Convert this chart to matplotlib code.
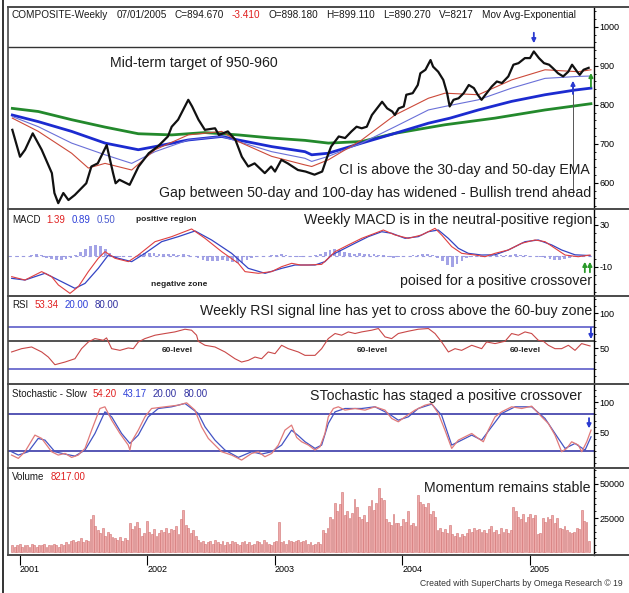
import numpy as np
import matplotlib
matplotlib.use("Agg")
import matplotlib.pyplot as plt
from matplotlib.lines import Line2D
from matplotlib.ticker import AutoMinorLocator
from matplotlib import font_manager

W, H = 629, 593
installed = {f.name for f in font_manager.fontManager.ttflist}
NARROW = "Liberation Sans Narrow" if "Liberation Sans Narrow" in installed else "Liberation Sans"
MAIN = "Liberation Sans"

# ---------------- data ----------------
price_yr = [2000.94, 2001.00, 2001.04, 2001.10, 2001.17, 2001.25, 2001.27, 2001.30, 2001.34, 2001.38,
            2001.43, 2001.52, 2001.56, 2001.61, 2001.68, 2001.73, 2001.75, 2001.78, 2001.86, 2001.93,
            2002.01, 2002.08, 2002.16, 2002.19, 2002.24, 2002.32, 2002.35, 2002.40, 2002.45, 2002.53,
            2002.56, 2002.63, 2002.69, 2002.74, 2002.79, 2002.84, 2002.92, 2002.97, 2003.00, 2003.05,
            2003.10, 2003.18, 2003.24, 2003.31, 2003.37, 2003.41, 2003.44, 2003.50, 2003.55, 2003.60,
            2003.64, 2003.68, 2003.72, 2003.76, 2003.80, 2003.84, 2003.88, 2003.92, 2003.94, 2003.97,
            2004.01, 2004.03, 2004.08, 2004.12, 2004.14, 2004.18, 2004.22, 2004.24, 2004.28, 2004.32,
            2004.35, 2004.37, 2004.40, 2004.44, 2004.48, 2004.52, 2004.56, 2004.59, 2004.62, 2004.66,
            2004.70, 2004.74, 2004.78, 2004.83, 2004.87, 2004.91, 2004.96, 2005.00, 2005.03, 2005.07,
            2005.11, 2005.15, 2005.18, 2005.22, 2005.26, 2005.30, 2005.33, 2005.37, 2005.39, 2005.42,
            2005.46]
price = [736, 667, 685, 727, 685, 625, 574, 548, 574, 556,
         569, 599, 642, 650, 697, 625, 599, 608, 595, 642,
         676, 693, 719, 744, 762, 813, 796, 762, 736, 740,
         723, 732, 710, 667, 642, 650, 625, 642, 629, 659,
         650, 633, 629, 621, 629, 667, 693, 719, 715, 732,
         744, 740, 744, 774, 791, 808, 791, 783, 774, 791,
         796, 826, 830, 851, 881, 890, 915, 898, 885, 864,
         830, 796, 813, 817, 830, 851, 843, 826, 813, 830,
         847, 860, 856, 873, 903, 907, 920, 920, 937, 920,
         907, 903, 894, 881, 873, 885, 903, 885, 877, 890,
         895]

ema_red_yr = [2000.94, 2001.144, 2001.405, 2001.536, 2001.667, 2001.876, 2002.059, 2002.32, 2002.582,
              2002.712, 2002.974, 2003.235, 2003.288, 2003.418, 2003.68, 2003.941, 2004.203, 2004.333,
              2004.595, 2004.856, 2005.118, 2005.379, 2005.478]
ema_red = [766, 732, 676, 638, 650, 633, 685, 723, 732, 706, 668, 646, 642, 659, 710, 774, 817, 830,
           826, 864, 890, 885, 890]
ema_lb_yr = [2000.94, 2001.144, 2001.405, 2001.667, 2001.876, 2002.059, 2002.32, 2002.582, 2002.712,
             2002.974, 2003.235, 2003.288, 2003.418, 2003.68, 2003.941, 2004.203, 2004.333, 2004.595,
             2004.856, 2005.118, 2005.379, 2005.478]
ema_lb = [770, 744, 702, 672, 650, 680, 710, 719, 706, 680, 663, 655, 668, 702, 744, 787, 796, 813,
          843, 868, 873, 874]
ema_blue_yr = [2000.94, 2001.144, 2001.405, 2001.667, 2001.928, 2002.059, 2002.32, 2002.582, 2002.712,
               2002.974, 2003.235, 2003.288, 2003.418, 2003.68, 2003.941, 2004.203, 2004.373, 2004.595,
               2004.856, 2005.118, 2005.353, 2005.478]
ema_blue = [774, 757, 732, 702, 685, 693, 710, 719, 710, 693, 680, 672, 676, 702, 727, 753, 766, 787,
            809, 826, 838, 843]
ema_green_yr = [2000.94, 2001.144, 2001.405, 2001.667, 2001.928, 2002.19, 2002.451, 2002.712, 2002.974,
                2003.235, 2003.418, 2003.68, 2003.941, 2004.333, 2004.725, 2005.118, 2005.478]
ema_green = [791, 783, 762, 743, 726, 723, 729, 723, 715, 709, 702, 706, 727, 749, 766, 787, 803]
target_level = 948

macd_yr = [2000.935, 2001.039, 2001.170, 2001.248, 2001.301, 2001.392, 2001.458, 2001.536, 2001.614,
           2001.667, 2001.745, 2001.850, 2001.928, 2002.059, 2002.190, 2002.346, 2002.451, 2002.582,
           2002.712, 2002.765, 2002.869, 2002.974, 2003.052, 2003.131, 2003.200, 2003.261, 2003.366,
           2003.418, 2003.471, 2003.575, 2003.680, 2003.784, 2003.850, 2003.941, 2004.046, 2004.150,
           2004.229, 2004.255, 2004.307, 2004.386, 2004.464, 2004.569, 2004.647, 2004.725, 2004.830,
           2004.935, 2005.039, 2005.118, 2005.196, 2005.275, 2005.379, 2005.471]
macd = [-19.2, -22.4, -14.4, -19.2, -27.1, -35.1, -28.7, -14.4, -1.7,
        4.6, -1.7, -4.9, 1.4, 14.1, 18.9, 26.2, 17.3, 4.6,
        -6.5, -14.4, -16.0, -14.4, -9.7, -6.5, -8.1, -8.1, -7.5,
        -1.7, 4.6, 11.0, 17.3, 22.1, 25.2, 20.5, 17.3, 20.5,
        25.2, 26.8, 20.5, 9.4, 3.0, 1.4, -0.2, 3.0, 6.2,
        12.6, 15.7, 14.1, 7.8, 1.4, -0.2, 1.39]
signal_yr = [2000.935, 2001.039, 2001.196, 2001.301, 2001.431, 2001.510, 2001.614, 2001.693, 2001.771,
             2001.876, 2001.980, 2002.111, 2002.242, 2002.373, 2002.503, 2002.660, 2002.791, 2002.922,
             2003.052, 2003.157, 2003.314, 2003.392, 2003.444, 2003.523, 2003.627, 2003.732, 2003.837,
             2003.915, 2004.020, 2004.124, 2004.203, 2004.281, 2004.359, 2004.438, 2004.516, 2004.621,
             2004.725, 2004.830, 2004.961, 2005.065, 2005.170, 2005.248, 2005.353, 2005.471]
signal = [-20.8, -22.4, -16.0, -22.4, -30.3, -25.6, -11.3, 1.4, -1.7,
          -4.9, 3.0, 14.1, 18.9, 24.3, 15.7, 3.0, -11.3, -16.0,
          -11.3, -8.1, -8.1, -4.9, 1.4, 6.2, 12.6, 18.9, 23.6,
          22.1, 17.3, 18.9, 23.6, 25.2, 17.3, 7.8, 3.0, 1.4,
          1.6, 6.2, 14.1, 15.7, 11.0, 6.2, 1.6, 0.89]
# histogram, one bar every second week from the first bar
macd_hist = [0.5, -0.8, 0.6, 0.4, 1.5, 2.0, 1.2, -1.0, -2.0, -3.0,
             -3.0, -2.5, -1.5, 1.0, 4.0, 7.0, 10.0, 11.0, 10.0, 7.0,
             3.0, -1.0, -0.5, 0.5, -0.5, 0.8, 2.0, 3.0, 3.5, 3.0,
             2.5, 2.0, 2.5, 2.0, 1.5, 2.0, 1.5, 0.5, -1.5, -3.0,
             -4.0, -4.5, -4.0, -3.5, -4.0, -5.0, -6.0, -6.5, -3.0, -1.0,
             -0.5, 0.5, 0.8, 1.0, 1.5, 2.0, 1.0, 0.5, -0.5, -0.8,
             0.5, 0.5, 1.0, 2.0, 4.0, 6.0, 7.0, 6.0, 4.5, 3.0,
             2.5, 3.0, 2.5, 2.0, 2.5, 1.5, 1.0, -0.5, -1.0, -0.5,
             0.5, 0.5, 1.0, 1.5, 2.0, 2.0, 1.5, -1.0, -4.0, -8.0,
             -10.0, -7.0, -4.0, -1.5, -0.5, 0.5, -0.5, 0.5, 1.0, 1.0,
             1.5, 1.0, 1.5, 2.0, 1.5, 1.0, 0.5, 0.5, -0.5, -1.5,
             -2.5, -3.5, -3.0, -2.5, -1.5, -0.5, 0.3, 0.5, 0.5]

rsi_yr = [2000.934, 2001.013, 2001.091, 2001.170, 2001.222, 2001.274, 2001.353, 2001.431, 2001.483,
          2001.536, 2001.588, 2001.653, 2001.679, 2001.719, 2001.784, 2001.849, 2001.889, 2001.928,
          2001.980, 2002.059, 2002.137, 2002.215, 2002.294, 2002.346, 2002.385, 2002.398, 2002.451,
          2002.529, 2002.608, 2002.686, 2002.738, 2002.791, 2002.843, 2002.895, 2002.947, 2003.000,
          2003.052, 2003.104, 2003.183, 2003.235, 2003.314, 2003.366, 2003.418, 2003.471, 2003.523,
          2003.575, 2003.628, 2003.680, 2003.758, 2003.811, 2003.863, 2003.915, 2003.967, 2004.046,
          2004.124, 2004.203, 2004.255, 2004.307, 2004.360, 2004.412, 2004.464, 2004.543, 2004.621,
          2004.660, 2004.726, 2004.804, 2004.856, 2004.909, 2004.961, 2005.013, 2005.065, 2005.105,
          2005.144, 2005.196, 2005.248, 2005.301, 2005.353, 2005.405, 2005.471]
rsi = [44.8, 49.5, 51.9, 44.8, 37.6, 26.7, 30.5, 35.2, 49.5,
       59.0, 63.8, 61.4, 64.8, 49.5, 47.1, 50.5, 49.5, 59.0,
       63.8, 68.6, 71.0, 73.3, 77.1, 75.7, 68.6, 60.0, 54.3,
       51.9, 44.8, 35.2, 30.5, 32.9, 37.6, 35.2, 44.8, 42.4,
       54.3, 49.5, 44.8, 40.0, 40.0, 49.5, 63.8, 71.0, 68.6,
       73.3, 71.0, 73.3, 75.7, 78.1, 66.2, 63.8, 71.0, 74.3,
       77.1, 78.1, 71.0, 59.0, 44.8, 49.5, 47.1, 54.3, 49.5,
       59.0, 56.7, 60.0, 71.0, 68.6, 73.3, 71.0, 61.4, 60.0,
       54.3, 49.5, 49.5, 54.3, 47.1, 56.7, 53.34]

stk_yr = [2000.934, 2000.987, 2001.039, 2001.117, 2001.170, 2001.248, 2001.300, 2001.353, 2001.405,
          2001.457, 2001.510, 2001.562, 2001.627, 2001.666, 2001.719, 2001.784, 2001.849, 2001.862,
          2001.875, 2001.928, 2001.980, 2002.032, 2002.137, 2002.241, 2002.307, 2002.372, 2002.424,
          2002.477, 2002.529, 2002.581, 2002.660, 2002.738, 2002.817, 2002.869, 2002.921, 2002.974,
          2003.026, 2003.078, 2003.130, 2003.170, 2003.209, 2003.262, 2003.314, 2003.353, 2003.392,
          2003.418, 2003.458, 2003.497, 2003.549, 2003.628, 2003.706, 2003.784, 2003.863, 2003.915,
          2003.967, 2004.020, 2004.098, 2004.177, 2004.229, 2004.281, 2004.333, 2004.386, 2004.438,
          2004.490, 2004.543, 2004.595, 2004.634, 2004.673, 2004.726, 2004.778, 2004.856, 2004.935,
          2005.013, 2005.092, 2005.144, 2005.196, 2005.248, 2005.288, 2005.327, 2005.379, 2005.406,
          2005.445, 2005.479]
stk = [12.9, 7.4, 18.4, 45.9, 40.4, 18.4, 12.9, 15.6, 9.0,
       12.9, 23.9, 54.1, 89.9, 92.7, 70.6, 48.6, 29.4, 21.1,
       34.9, 54.1, 76.1, 89.9, 92.7, 95.4, 99.3, 87.2, 59.6,
       40.4, 29.4, 18.4, 12.9, 4.6, 15.6, 18.4, 10.1, 15.6,
       29.4, 54.1, 62.4, 42.0, 34.9, 29.4, 21.1, 26.6, 48.6,
       76.1, 89.9, 92.7, 87.2, 89.9, 87.2, 92.7, 87.2, 73.4,
       67.9, 76.1, 87.2, 95.4, 98.2, 81.7, 54.1, 23.9, 37.6,
       43.1, 48.6, 40.4, 34.9, 54.1, 76.1, 84.4, 92.7, 89.9,
       93.8, 76.1, 65.1, 45.9, 18.4, 23.9, 34.9, 29.4, 18.4,
       34.9, 54.20]
std_yr = [2000.934, 2000.987, 2001.065, 2001.143, 2001.196, 2001.274, 2001.353, 2001.431, 2001.510,
          2001.588, 2001.666, 2001.719, 2001.797, 2001.862, 2001.928, 2002.006, 2002.085, 2002.189,
          2002.294, 2002.398, 2002.451, 2002.529, 2002.608, 2002.712, 2002.817, 2002.895, 2002.974,
          2003.052, 2003.130, 2003.183, 2003.235, 2003.314, 2003.366, 2003.418, 2003.471, 2003.549,
          2003.680, 2003.784, 2003.889, 2003.967, 2004.046, 2004.124, 2004.229, 2004.307, 2004.386,
          2004.464, 2004.543, 2004.621, 2004.699, 2004.778, 2004.883, 2005.013, 2005.118, 2005.222,
          2005.275, 2005.353, 2005.432, 2005.479]
std = [18.4, 12.9, 18.4, 40.4, 37.6, 18.4, 14.5, 11.2, 21.1,
       48.6, 84.4, 76.1, 48.6, 32.1, 45.9, 76.1, 89.9, 92.7,
       98.2, 81.7, 59.6, 37.6, 21.1, 9.0, 18.4, 14.5, 18.4,
       29.4, 54.0, 45.0, 35.0, 23.9, 29.4, 65.1, 84.4, 89.9,
       89.9, 92.7, 81.7, 70.6, 76.1, 89.9, 97.1, 78.9, 29.4,
       37.6, 45.9, 37.6, 59.6, 81.7, 92.7, 92.7, 73.4, 40.4,
       23.9, 32.1, 21.1, 43.17]

# weekly volume, thousands of shares
volume_k = [5, 4, 5, 6, 4, 5, 5, 4, 6, 5, 4, 5, 5, 6, 4, 5, 5, 6, 5, 4, 6, 5,
            7, 6, 8, 9, 7, 8, 10, 7, 9, 8,
            24, 27, 19, 16, 14, 18, 12, 15, 13, 11,
            10, 9, 11, 8, 10, 9, 21, 17, 19, 22,
            18, 12, 14, 23, 15, 13, 17, 12, 14, 16,
            15, 18, 14, 17, 16, 19, 13, 24, 31, 20,
            18, 14, 16, 12,
            9, 7, 8, 6, 7, 8, 6, 9, 7, 6, 8, 5, 7, 6, 8, 7, 6, 5, 7, 8,
            6, 7, 5, 6, 8, 7, 6, 9, 7, 6, 5, 7, 8,
            22, 7, 8, 6, 9, 8, 7,
            8, 9, 7, 8, 9, 6, 7, 5, 6, 7, 6,
            16, 14, 18, 26, 24, 36, 30, 35, 44, 27, 30, 25, 29,
            39, 33, 26, 24, 27, 22, 34, 38, 31, 36, 47, 40, 38, 24,
            22, 20, 28, 21, 21, 19, 24, 22, 30, 20, 21, 19,
            42, 37, 35, 33, 36, 28, 30, 26, 16, 18, 15, 17, 14, 20,
            13, 12, 14, 11, 13, 12, 14, 17, 15, 18, 16, 17, 15,
            16, 14, 17, 19, 15, 16, 13, 18, 15, 17, 14, 16,
            33, 30, 26, 24, 28, 22, 26, 28, 25, 27, 13, 14,
            25, 22, 26, 24, 27, 21, 25, 18, 17, 19, 16,
            15, 14, 15, 18, 17, 31, 23, 22, 8.217]

year_ticks = [2001, 2002, 2003, 2004, 2005]

first_week = 2000.94
vol_yr = first_week + np.arange(len(volume_k)) / 52.18
hist_yr = first_week + np.arange(len(macd_hist)) * 2 / 52.18
volume = np.array(volume_k) * 1000

# ---------------- layout helpers (pixel -> figure fraction) ----------------
def fx(x):
    return x / W

def fy(y):
    return 1 - y / H

X0, X1 = 8, 594
panels = [(7, 209), (209, 296), (296, 384), (384, 468), (468, 555)]
XLIM = (2000.906, 2005.502)

fig = plt.figure(figsize=(W / 100, H / 100), dpi=100, facecolor="white")
axes = []
for top, bot in panels:
    ax = fig.add_axes([fx(X0), fy(bot), fx(X1) - fx(X0), fy(top) - fy(bot)])
    ax.set_xlim(*XLIM)
    for s in ("left", "top", "bottom"):
        ax.spines[s].set_visible(False)
    ax.spines["right"].set_linewidth(1.0)
    ax.yaxis.tick_right()
    ax.tick_params(axis="y", which="major", direction="out", length=3, width=0.8, pad=1,
                   labelsize=6.5, labelfontfamily=NARROW)
    ax.tick_params(axis="y", which="minor", direction="out", length=1.5, width=0.6)
    ax.yaxis.set_minor_locator(AutoMinorLocator(5))
    ax.set_xticks([])
    ax.set_facecolor("white")
    axes.append(ax)
ax_p, ax_m, ax_r, ax_s, ax_v = axes

# ---- price panel ----
ax_p.set_ylim(533, 1051)
ax_p.set_yticks([600, 700, 800, 900, 1000])
ax_p.axhline(target_level, color="#333333", lw=1.0)
ax_p.plot(ema_green_yr, ema_green, color="#23892c", lw=2.0)
ax_p.plot(ema_blue_yr, ema_blue, color="#1c2bd0", lw=2.0)
ax_p.plot(ema_lb_yr, ema_lb, color="#6a70d8", lw=0.8)
ax_p.plot(ema_red_yr, ema_red, color="#cc4a3a", lw=0.8)
ax_p.plot(price_yr, price, color="#111111", lw=1.6)
ax_p.plot([2005.337, 2005.337], [570, 856], color="#555555", lw=0.7)
arrow = dict(arrowstyle="-|>", lw=1.3, mutation_scale=6, shrinkA=0, shrinkB=0)
ax_p.annotate("", xy=(2005.03, 958), xytext=(2005.03, 985), arrowprops=dict(arrow, color="#2a3ad0"))
ax_p.annotate("", xy=(2005.337, 862), xytext=(2005.337, 828), arrowprops=dict(arrow, color="#2a3ad0"))
ax_p.annotate("", xy=(2005.478, 882), xytext=(2005.478, 846), arrowprops=dict(arrow, color="#2a9a2a"))

# ---- MACD panel ----
ax_m.set_ylim(-37.6, 45.2)
ax_m.set_yticks([30, -10])
ax_m.set_yticklabels(["30", "-10"])
ax_m.axhline(0, color="#9a9ae0", lw=0.8, ls=(0, (3, 3)))
ax_m.bar(hist_yr, macd_hist, width=0.022, color="#8c8ce0", alpha=0.8)
ax_m.plot(signal_yr, signal, color="#3444c4", lw=0.9)
ax_m.plot(macd_yr, macd, color="#e04040", lw=0.8)
ax_m.annotate("", xy=(2005.43, -5), xytext=(2005.43, -15), arrowprops=dict(arrow, color="#2a9a2a"))
ax_m.annotate("", xy=(2005.47, -5), xytext=(2005.47, -15), arrowprops=dict(arrow, color="#2a9a2a"))
ax_m.text(2002.145, 34.8, "positive region", fontsize=6, family=NARROW, weight="bold",
          ha="center", va="center", color="#222222")
ax_m.text(2002.25, -27, "negative zone", fontsize=6, family=NARROW, weight="bold",
          ha="center", va="center", color="#222222")

# ---- RSI panel ----
ax_r.set_ylim(-0.7, 124.3)
ax_r.set_yticks([100, 50])
ax_r.axhline(80, color="#5c5cc8", lw=1.2)
ax_r.axhline(60, color="#333333", lw=1.2)
ax_r.axhline(20, color="#5c5cc8", lw=1.2)
ax_r.plot(rsi_yr, rsi, color="#c94848", lw=0.8)
ax_r.annotate("", xy=(2005.478, 63), xytext=(2005.478, 79), arrowprops=dict(arrow, color="#2a3ad0"))
for lx in (2002.23, 2003.76, 2004.96):
    ax_r.text(lx, 47, "60-level", fontsize=6, family=NARROW, weight="bold",
              ha="center", va="center", color="#222222")

# ---- Stochastic panel ----
ax_s.set_ylim(-8.5, 130.4)
ax_s.set_yticks([100, 50])
ax_s.axhline(80, color="#3a3aa8", lw=1.2)
ax_s.axhline(20, color="#3a3aa8", lw=1.2)
ax_s.plot(std_yr, std, color="#4454c4", lw=0.9)
ax_s.plot(stk_yr, stk, color="#e07a7a", lw=0.9)
ax_s.annotate("", xy=(2005.463, 57), xytext=(2005.463, 74), arrowprops=dict(arrow, color="#2a3ad0"))

# ---- Volume panel ----
ax_v.set_ylim(-2200, 61760)
ax_v.set_yticks([50000, 25000])
ax_v.bar(vol_yr, volume, width=0.0145, color="#eeaaaa", edgecolor="#d07070", linewidth=0.4)
ax_v.set_xticks(year_ticks)
ax_v.set_xticklabels([str(y) for y in year_ticks])
ax_v.tick_params(axis="x", direction="out", length=7, width=0.8, pad=0, labelsize=6.5,
                 labelfontfamily=NARROW)
for lab in ax_v.get_xticklabels():
    lab.set_horizontalalignment("left")

# ---------------- frame lines ----------------
for yy in (7, 209, 296, 384, 468, 555):
    fig.add_artist(Line2D([fx(X0), 1.0], [fy(yy), fy(yy)], color="#4a4a4a", lw=1.4))
fig.add_artist(Line2D([fx(X0), fx(X0)], [fy(7), fy(555)], color="#4a4a4a", lw=1.2))
fig.add_artist(Line2D([fx(3), fx(3)], [0, 1], color="#111111", lw=1.2))

# ---------------- header strips ----------------
renderer = fig.canvas.get_renderer()

def strip(x, y, parts, size=7, gap=6):
    for s, c in parts:
        t = fig.text(fx(x), fy(y), s, color=c, fontsize=size, family=NARROW,
                     ha="left", va="center")
        x += t.get_window_extent(renderer).width + gap

BLK, RED, BLU, NAV = "#1a1a1a", "#e02020", "#2d3fd8", "#3030a0"
strip(12, 15, [("COMPOSITE-Weekly", BLK), ("07/01/2005", BLK), ("C=894.670", BLK), ("-3.410", RED),
               ("O=898.180", BLK), ("H=899.110", BLK), ("L=890.270", BLK), ("V=8217", BLK),
               ("Mov Avg-Exponential", BLK)], size=7.2, gap=8)
strip(12, 220, [("MACD", BLK), ("1.39", RED), ("0.89", BLU), ("0.50", "#4a5ad0")])
strip(12, 305, [("RSI", BLK), ("53.34", RED), ("20.00", BLU), ("80.00", NAV)])
strip(12, 394, [("Stochastic - Slow", BLK), ("54.20", RED), ("43.17", BLU), ("20.00", NAV),
                ("80.00", NAV)])
strip(12, 477, [("Volume", BLK), ("8217.00", RED)])

# ---------------- commentary ----------------
TXT = "#1e1e1e"
notes = [
    (110, 63, "left", "Mid-term target of 950-960"),
    (590, 170, "right", "CI is above the 30-day and 50-day EMA"),
    (591, 193, "right", "Gap between 50-day and 100-day has widened - Bullish trend ahead"),
    (592, 220, "right", "Weekly MACD is in the neutral-positive region"),
    (592, 281, "right", "poised for a positive crossover"),
    (592, 311, "right", "Weekly RSI signal line has yet to cross above the 60-buy zone"),
    (582, 396, "right", "STochastic has staged a positive crossover"),
    (591, 488, "right", "Momentum remains stable"),
]
for x, y, ha, s in notes:
    fig.text(fx(x), fy(y), s, fontsize=10.2, family=MAIN, color=TXT, ha=ha, va="center")

fig.text(fx(420), fy(583), "Created with SuperCharts by Omega Research \u00a9 19", fontsize=6.2,
         family=NARROW, color="#333333", ha="left", va="center")

fig.savefig("out.png", dpi=100, facecolor="white")
